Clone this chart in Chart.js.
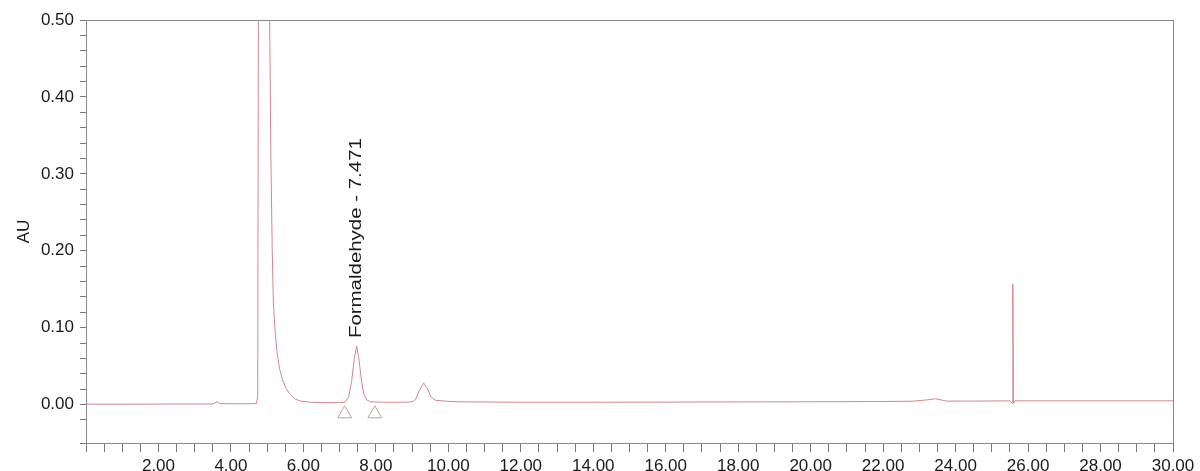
<!DOCTYPE html>
<html>
<head>
<meta charset="utf-8">
<script src="https://cdn.jsdelivr.net/npm/chart.js@4.4.1/dist/chart.umd.min.js"></script>
<style>
  html, body { margin: 0; padding: 0; background: #fff; }
  #wrap { width: 1200px; height: 471px; }
</style>
</head>
<body>
<div id="wrap"><canvas id="chart"></canvas></div>
<script>
// retention time (min) and absorbance (AU)
var time = [0.00, 1.00, 2.00, 3.00, 3.50, 3.55, 3.62, 3.70, 4.00, 4.50, 4.70, 4.74, 4.76, 4.90, 5.06, 5.10,
	5.14, 5.17, 5.22, 5.27, 5.34, 5.41, 5.52, 5.64, 5.78, 5.92, 6.20, 6.60, 7.00, 7.15, 7.25, 7.33,
	7.40, 7.47, 7.53, 7.60, 7.67, 7.75, 7.85, 8.20, 8.80, 9.00, 9.10, 9.20, 9.32, 9.42, 9.52, 9.65,
	9.90, 10.30, 12.00, 14.00, 16.00, 18.00, 20.00, 22.00, 22.80, 23.20, 23.45, 23.60, 23.75, 24.50,
	25.50, 25.565, 25.58, 25.595, 25.64, 27.00, 28.00, 30.00]
var au = [0.0005, 0.0005, 0.0006, 0.0008, 0.0008, 0.0020, 0.0040, 0.0012, 0.0010, 0.0010, 0.0012, 0.010, 0.60, 1.20, 0.55, 0.33,
	0.200, 0.134, 0.095, 0.069, 0.047, 0.034, 0.021, 0.013, 0.007, 0.0045, 0.0030, 0.0025, 0.0025, 0.0030, 0.010, 0.030,
	0.058, 0.076, 0.060, 0.032, 0.013, 0.006, 0.0035, 0.0030, 0.0030, 0.0035, 0.007, 0.018, 0.028, 0.021, 0.010, 0.0055,
	0.0045, 0.0035, 0.0030, 0.0030, 0.0032, 0.0034, 0.0036, 0.0040, 0.0043, 0.0060, 0.0075, 0.0060, 0.0045, 0.0045,
	0.0048, 0.0015, 0.157, 0.0015, 0.0048, 0.0048, 0.0048, 0.0048]

// integration start / end markers
var markerTime = [7.14, 7.97]
var markerAU = [-0.012, -0.012]

var peakName = 'Formaldehyde'
var peakTime = 7.471
var peakTop = 0.076

var xLabels = ['2.00', '4.00', '6.00', '8.00', '10.00', '12.00', '14.00', '16.00', '18.00', '20.00', '22.00', '24.00', '26.00', '28.00', '30.00']
var yLabels = ['0.00', '0.10', '0.20', '0.30', '0.40', '0.50']

var font = "Arial, 'Liberation Sans', sans-serif"

// box around plot + rotated peak label
var boxPlugin = {
	id: 'box',
	afterDraw: function(chart) {
		var ctx = chart.ctx
		var a = chart.chartArea
		ctx.save()
		ctx.strokeStyle = '#8a8a8a'
		ctx.lineWidth = 1
		ctx.strokeRect(a.left + 0.5, a.top + 0.5, a.right - a.left, a.bottom - a.top)

		var x = chart.scales.x.getPixelForValue(peakTime)
		var y = chart.scales.y.getPixelForValue(peakTop) - 8
		var txt = peakName + ' - ' + peakTime.toFixed(3)
		ctx.font = '16px ' + font
		var w = ctx.measureText(txt).width
		ctx.translate(x, y)
		ctx.rotate(-Math.PI / 2)
		ctx.scale(200 / w, 1)
		ctx.fillStyle = '#1a1a1a'
		ctx.textBaseline = 'middle'
		ctx.textAlign = 'left'
		ctx.fillText(txt, 0, 0)
		ctx.restore()
	}
}

var ctx = document.getElementById('chart').getContext('2d')
var chart = new Chart(ctx, {
	type: 'scatter',
	data: {
		datasets: [{
			label: 'trace',
			data: time.map((t, i) => ({x: t, y: au[i]})),
			showLine: true,
			borderColor: '#d4868e',
			borderWidth: 1,
			pointRadius: 0,
			tension: 0
		}, {
			label: 'markers',
			data: markerTime.map((t, i) => ({x: t, y: markerAU[i]})),
			showLine: false,
			pointStyle: 'triangle',
			pointRadius: 8,
			backgroundColor: 'rgba(0,0,0,0)',
			borderColor: '#b9a4a6',
			borderWidth: 1,
			clip: false
		}]
	},
	options: {
		responsive: true,
		maintainAspectRatio: false,
		animation: false,
		layout: { padding: { top: 20, right: 27, left: 0, bottom: 0 } },
		plugins: {
			legend: { display: false },
			tooltip: { enabled: false }
		},
		scales: {
			x: {
				type: 'linear',
				min: 0,
				max: 30,
				afterFit: function(s) { s.height = 28 },
				border: { color: '#8a8a8a' },
				grid: { drawOnChartArea: false, drawTicks: true, tickLength: 9, tickColor: '#777' },
				ticks: {
					stepSize: 0.5,
					autoSkip: false,
					maxRotation: 0,
					padding: 4,
					color: '#1a1a1a',
					font: { family: font, size: 17 },
					callback: function(v) {
						var l = Number(v).toFixed(2)
						return xLabels.includes(l) ? l : ''
					}
				}
			},
			y: {
				min: -0.05,
				max: 0.5,
				afterFit: function(s) { s.width = 86 },
				border: { color: '#8a8a8a' },
				grid: { drawOnChartArea: false, drawTicks: true, tickLength: 6, tickColor: '#777' },
				title: {
					display: true,
					text: 'AU',
					color: '#1a1a1a',
					font: { family: font, size: 17 },
					padding: { top: 14, bottom: 0 }
				},
				ticks: {
					stepSize: 0.02,
					autoSkip: false,
					padding: 6,
					color: '#1a1a1a',
					font: { family: font, size: 17 },
					callback: function(v) {
						var l = Number(v).toFixed(2)
						return yLabels.includes(l) ? l : ''
					}
				}
			}
		}
	},
	plugins: [boxPlugin]
})
</script>
</body>
</html>
